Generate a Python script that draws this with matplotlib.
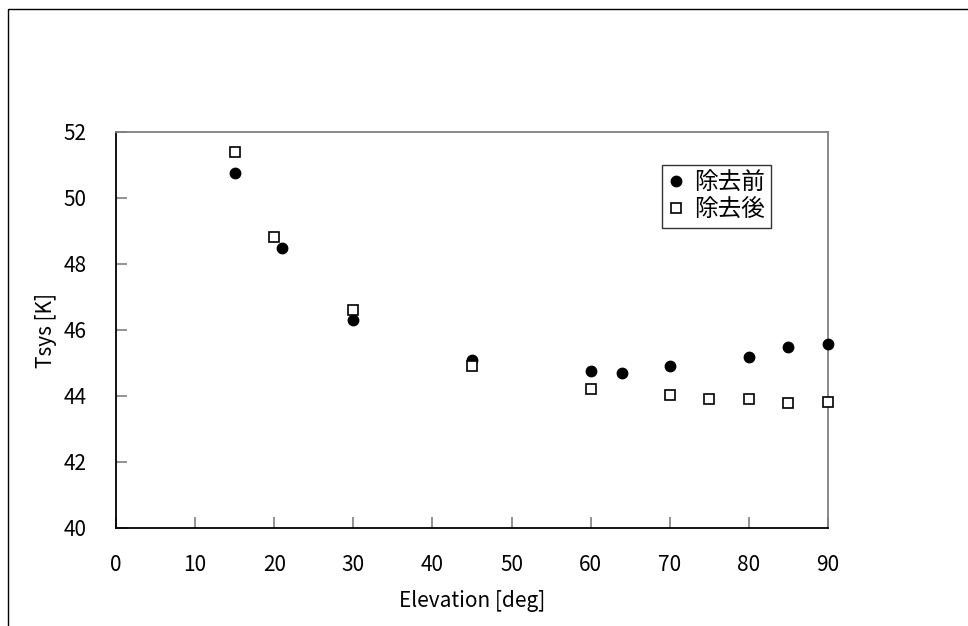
import matplotlib
matplotlib.use("Agg")
import matplotlib.pyplot as plt
from matplotlib.patches import Rectangle

plt.rcParams['font.family'] = ['Noto Sans CJK JP', 'DejaVu Sans']

# Data
elev_before = [15, 21, 30, 45, 60, 64, 70, 80, 85, 90]
tsys_before = [50.77, 48.48, 46.30, 45.09, 44.76, 44.71, 44.90, 45.19, 45.48, 45.58]
elev_after = [15, 20, 30, 45, 60, 70, 75, 80, 85, 90]
tsys_after = [51.39, 48.82, 46.60, 44.91, 44.21, 44.02, 43.92, 43.92, 43.78, 43.83]
label_before = "除去前"
label_after = "除去後"
xticks = [0, 10, 20, 30, 40, 50, 60, 70, 80, 90]
yticks = [40, 42, 44, 46, 48, 50, 52]

W, H = 968, 626
fig = plt.figure(figsize=(W / 100, H / 100), dpi=100)

# outer chart frame
fig.patches.append(Rectangle((8 / W, -0.2), 1.2, 1.2 - 9 / H, transform=fig.transFigure,
                             fill=False, edgecolor='black', linewidth=1.0, clip_on=False))

ax = fig.add_axes([116 / W, 1 - 528 / H, (828 - 116) / W, (528 - 132) / H])
ax.plot(elev_before, tsys_before, linestyle='none', marker='o', markersize=7.5,
        color='black', label=label_before, clip_on=False, zorder=3)
ax.plot(elev_after, tsys_after, linestyle='none', marker='s', markersize=6.5,
        markerfacecolor='white', markeredgecolor='black', markeredgewidth=1.2,
        label=label_after, clip_on=False, zorder=3)

ax.set_xlim(0, 90)
ax.set_ylim(40, 52)
ax.set_xticks(xticks)
ax.set_yticks(yticks)
ax.tick_params(direction='in', length=8, width=1.2, color='#808080', labelsize=15)
ax.tick_params(axis='x', pad=19)
ax.tick_params(axis='y', pad=21)
for s in ['left', 'bottom']:
    ax.spines[s].set_color('black')
    ax.spines[s].set_linewidth(1.3)
for s in ['top', 'right']:
    ax.spines[s].set_color('#808080')
    ax.spines[s].set_linewidth(1.3)

ax.set_xlabel("Elevation [deg]", fontsize=15, labelpad=10)
ax.set_ylabel("Tsys [K]", fontsize=15, labelpad=5)

leg = ax.legend(loc='upper left', bbox_to_anchor=((662 - 116) / (828 - 116), 1 - (165 - 132) / (528 - 132)),
                fontsize=17, frameon=True, fancybox=False, borderpad=0.25,
                handlelength=0.7, handletextpad=0.4, labelspacing=0.2, borderaxespad=0)
leg.get_frame().set_edgecolor('black')
leg.get_frame().set_linewidth(1.0)

fig.savefig("out.png", dpi=100)
